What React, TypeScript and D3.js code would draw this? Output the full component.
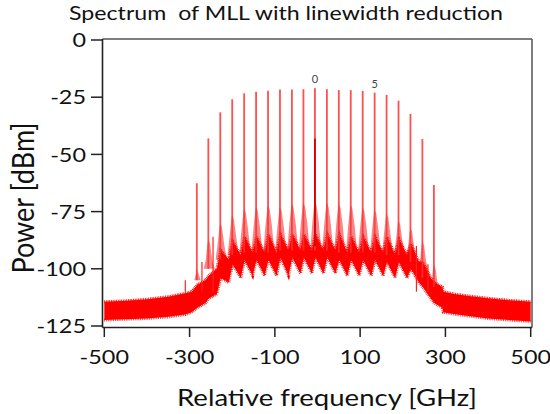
import * as d3 from "d3";

// comb modes, relative frequency in GHz, power in dBm
const modeIndex = [-10, -9, -8, -7, -6, -5, -4, -3, -2, -1, 0, 1, 2, 3, 4, 5, 6, 7, 8, 9, 10];
const modeFreq = [-283, -256, -228, -200, -172, -144, -116, -88, -60, -33, -6, 22, 50, 78, 106, 134, 162, 190, 218, 246, 273];
const modePeak = [-62.6, -43, -31.6, -25.9, -23.3, -22.6, -22.2, -21.6, -21.6, -21.5, -21.1, -21.5, -21.9, -21.9, -22.3, -23, -24, -26.5, -32.3, -43.3, -63.4];
// light side-band humps next to each mode
const humpPeak = [-100, -87, -80, -76.5, -73.6, -72.8, -72.1, -72.8, -71.4, -71, -70.5, -71, -71.5, -72, -73, -74, -75.7, -78.7, -82, -88, -98];
// noise pedestal under the comb (top / bottom edge, at mode and in the gap after it)
const bandHiPeak = [-107, -103, -92, -88, -86, -86, -85, -85, -85, -85, -85, -85, -85, -86, -86, -86, -86, -87, -89, -97, -106];
const bandHiValley = [-105, -100, -96, -94, -93, -93, -93, -92, -92, -92, -92, -92, -93, -93, -93, -93, -94, -94, -97, -104, -108];
const bandLoPeak = [-117, -113, -104, -98, -96, -96, -96, -95, -95, -95, -95, -95, -96, -96, -96, -96, -97, -97, -100, -108, -115];
const bandLoValley = [-115, -111, -106, -104, -103, -103, -103, -103, -102, -102, -102, -102, -103, -103, -103, -103, -104, -104, -106, -113, -117];
// flat noise floor outside the comb
const wingLeftFreq = [-500, -450, -400, -350, -310, -295];
const wingLeftHi = [-114.4, -114, -113.3, -112.2, -110.7, -110];
const wingLeftLo = [-122.4, -122, -121.7, -121, -120, -119];
const wingRightFreq = [295, 320, 350, 400, 450, 500];
const wingRightHi = [-110, -111, -111.8, -112.9, -113.8, -114.4];
const wingRightLo = [-119, -119.8, -120.5, -121.7, -122.4, -123];
// small extra lines
const minorFreq = [-310, -271, -245, 232, 259];
const minorPeak = [-105, -97, -86, -90, -98];
const darkFreq = [-6];
const darkPeak = [-43];
const labeledModes = [0, 5];

const xTicks = [-500, -300, -100, 100, 300, 500];
const yTicks = [0, -25, -50, -75, -100, -125];

const FONT = "Lato, 'Open Sans', sans-serif";
const SX = 1.17; // the source figure is a bit stretched sideways

export default function App() {
  const width = 550;
  const height = 414;
  const x = d3.scaleLinear().domain([-500, 500]).range([104.3, 530.7]);
  const y = d3.scaleLinear().domain([-125, 0]).range([326, 40]);

  type P = [number, number, number];
  const band: P[] = [];
  wingLeftFreq.forEach((f, i) => band.push([f, wingLeftHi[i], wingLeftLo[i]]));
  modeFreq.forEach((f, i) => {
    band.push([f + 1, bandHiPeak[i], bandLoPeak[i]]);
    band.push([f + 20, bandHiValley[i], bandLoValley[i]]);
  });
  wingRightFreq.forEach((f, i) => band.push([f, wingRightHi[i], wingRightLo[i]]));

  const bandArea = d3
    .area<P>()
    .x((d) => x(d[0]))
    .y0((d) => y(d[2]))
    .y1((d) => y(d[1]));
  const bandTop = d3.line<P>().x((d) => x(d[0])).y((d) => y(d[1]));
  const bandBot = d3.line<P>().x((d) => x(d[0])).y((d) => y(d[2]));

  const humps: [number, number][][] = modeFreq.map((f, i) => {
    const base = bandHiValley[i];
    const h = humpPeak[i];
    return [
      [f - 11, base],
      [f - 6, Math.max(h - 9, base)],
      [f - 2, h - 2],
      [f, h],
      [f + 4, h - 2],
      [f + 9, Math.max(h - 9, base)],
      [f + 15, base],
    ];
  });
  const humpLine = d3
    .line<[number, number]>()
    .x((d) => x(d[0]))
    .y((d) => y(d[1]));

  return (
    <svg width={width} height={height} style={{ position: "absolute", left: 0, top: 0, background: "#fff" }}>
      <text x={286} y={20} textAnchor="middle" fontFamily={FONT} fontSize={19} fill="#111" textLength={434} lengthAdjust="spacingAndGlyphs" style={{ whiteSpace: "pre" }}>
        {"Spectrum  of MLL with linewidth reduction"}
      </text>

      {humps.map((h, i) => (
        <path key={"h" + i} d={humpLine(h) + "Z"} fill="#f98686" />
      ))}
      <path d={bandArea(band)!} fill="#ff0000" />
      <path d={bandTop(band)!} fill="none" stroke="#ff0000" strokeWidth={3} strokeDasharray="0.8 0.9" />
      <path d={bandBot(band)!} fill="none" stroke="#ff0000" strokeWidth={3} strokeDasharray="0.7 1.1" />

      {modeFreq.map((f, i) => (
        <line key={"m" + i} x1={x(f)} x2={x(f)} y1={y(bandHiValley[i])} y2={y(modePeak[i])} stroke="#ff3030" strokeWidth={1.8} strokeOpacity={0.85} />
      ))}
      {minorFreq.map((f, i) => (
        <line key={"n" + i} x1={x(f)} x2={x(f)} y1={y(-110)} y2={y(minorPeak[i])} stroke="#ff2020" strokeWidth={1.2} />
      ))}
      {darkFreq.map((f, i) => (
        <line key={"d" + i} x1={x(f)} x2={x(f)} y1={y(-90)} y2={y(darkPeak[i])} stroke="#d80000" strokeWidth={1.8} />
      ))}
      {labeledModes.map((n) => {
        const i = modeIndex.indexOf(n);
        return (
          <text key={"l" + n} x={x(modeFreq[i])} y={y(modePeak[i]) - 5} textAnchor="middle" fontFamily={FONT} fontSize={11} fill="#444">
            {n}
          </text>
        );
      })}

      {/* frame */}
      <line x1={102.5} x2={532} y1={39} y2={39} stroke="#555" strokeWidth={1.5} />
      <line x1={532} x2={532} y1={39} y2={327.5} stroke="#555" strokeWidth={1.5} />
      <line x1={102.5} x2={102.5} y1={39} y2={327.5} stroke="#222" strokeWidth={1.6} />
      <line x1={102.5} x2={532} y1={327.5} y2={327.5} stroke="#222" strokeWidth={1.6} />

      {yTicks.map((t) => (
        <g key={"y" + t}>
          <line x1={91} x2={102.5} y1={y(t)} y2={y(t)} stroke="#222" strokeWidth={1.5} />
          <text transform={`translate(86,${y(t)}) scale(${SX},1)`} dy="0.36em" textAnchor="end" fontFamily={FONT} fontSize={20} fill="#111">
            {t}
          </text>
        </g>
      ))}
      {xTicks.map((t) => (
        <g key={"x" + t}>
          <line x1={x(t)} x2={x(t)} y1={327.5} y2={337} stroke="#222" strokeWidth={1.5} />
          <text transform={`translate(${x(t)},364) scale(${SX},1)`} textAnchor="middle" fontFamily={FONT} fontSize={20} fill="#111">
            {t}
          </text>
        </g>
      ))}

      <text x={327} y={406} textAnchor="middle" fontFamily={FONT} fontSize={24} fill="#111" textLength={300} lengthAdjust="spacingAndGlyphs">
        Relative frequency [GHz]
      </text>
      <text transform={`translate(34,198) scale(${SX},1) rotate(-90)`} textAnchor="middle" fontFamily={FONT} fontSize={27} fill="#111">
        Power [dBm]
      </text>
    </svg>
  );
}
